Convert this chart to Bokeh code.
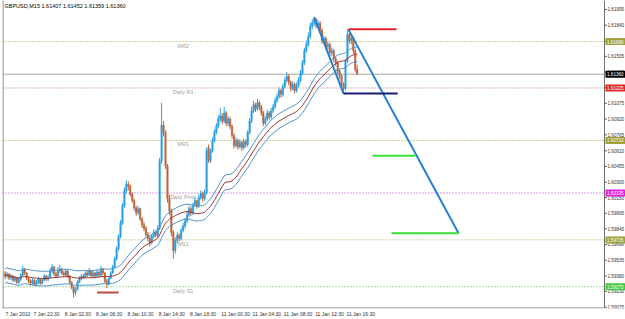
import pandas as pd
from bokeh.plotting import figure
from bokeh.models import Range1d, FixedTicker, Span, Label, ColumnDataSource
from bokeh.core.properties import value
from bokeh.embed import file_html
from bokeh.resources import INLINE

symbol = "GBPUSD,M15"

opens = [1.5941,1.5938,1.5940,1.5936,1.5938,1.5934,1.5936,1.5932,1.5935,1.5939,
1.5945,1.5941,1.5936,1.5933,1.5931,1.5934,1.5930,1.5932,1.5935,1.5931,
1.5934,1.5938,1.5935,1.5937,1.5943,1.5947,1.5940,1.5938,1.5943,1.5945,
1.5941,1.5939,1.5943,1.5938,1.5932,1.5927,1.5922,1.5925,1.5932,1.5936,
1.5938,1.5937,1.5941,1.5939,1.5943,1.5938,1.5941,1.5938,1.5942,1.5939,
1.5945,1.5941,1.5933,1.5930,1.5936,1.5941,1.5947,1.5955,1.5965,1.5977,
1.5990,1.6007,1.6022,1.6028,1.6026,1.6018,1.6012,1.6005,1.6000,1.6004,
1.5994,1.5988,1.5985,1.5979,1.5975,1.5971,1.5977,1.5981,1.5978,1.5985,
1.6051,1.6086,1.6079,1.6046,1.6014,1.6002,1.5981,1.5963,1.5973,1.5978,
1.5975,1.5983,1.5987,1.5992,1.5998,1.6004,1.6000,1.6008,1.6012,1.6007,
1.6015,1.6019,1.6014,1.6020,1.6064,1.6051,1.6061,1.6071,1.6079,1.6085,
1.6092,1.6095,1.6090,1.6098,1.6088,1.6092,1.6085,1.6076,1.6066,1.6071,
1.6065,1.6069,1.6064,1.6070,1.6067,1.6079,1.6090,1.6100,1.6106,1.6102,
1.6108,1.6104,1.6098,1.6088,1.6092,1.6098,1.6094,1.6100,1.6104,1.6110,
1.6114,1.6120,1.6116,1.6124,1.6130,1.6134,1.6128,1.6122,1.6126,1.6120,
1.6125,1.6130,1.6137,1.6147,1.6159,1.6165,1.6173,1.6183,1.6186,1.6190,
1.6184,1.6186,1.6179,1.6169,1.6171,1.6163,1.6165,1.6157,1.6159,1.6151,
1.6147,1.6139,1.6134,1.6126,1.6122,1.6149,1.6175,1.6169,1.6171,1.6159,
1.61407]

closes = [1.5938,1.5940,1.5936,1.5938,1.5934,1.5936,1.5932,1.5935,1.5939,1.5945,
1.5941,1.5936,1.5933,1.5931,1.5934,1.5930,1.5932,1.5935,1.5931,1.5934,
1.5938,1.5935,1.5937,1.5943,1.5947,1.5940,1.5938,1.5943,1.5945,1.5941,
1.5939,1.5943,1.5938,1.5932,1.5927,1.5922,1.5925,1.5932,1.5936,1.5938,
1.5937,1.5941,1.5939,1.5943,1.5938,1.5941,1.5938,1.5942,1.5939,1.5945,
1.5941,1.5933,1.5930,1.5936,1.5941,1.5947,1.5955,1.5965,1.5977,1.5990,
1.6007,1.6022,1.6028,1.6026,1.6018,1.6012,1.6005,1.6000,1.6004,1.5994,
1.5988,1.5985,1.5979,1.5975,1.5971,1.5977,1.5981,1.5978,1.5985,1.6051,
1.6086,1.6079,1.6046,1.6014,1.6002,1.5981,1.5963,1.5973,1.5978,1.5975,
1.5983,1.5987,1.5992,1.5998,1.6004,1.6000,1.6008,1.6012,1.6007,1.6015,
1.6019,1.6014,1.6020,1.6061,1.6051,1.6061,1.6071,1.6079,1.6085,1.6092,
1.6095,1.6090,1.6098,1.6088,1.6092,1.6085,1.6076,1.6066,1.6071,1.6065,
1.6069,1.6064,1.6070,1.6067,1.6079,1.6090,1.6100,1.6106,1.6102,1.6108,
1.6104,1.6098,1.6088,1.6092,1.6098,1.6094,1.6100,1.6104,1.6110,1.6114,
1.6120,1.6116,1.6124,1.6130,1.6134,1.6128,1.6122,1.6126,1.6120,1.6125,
1.6130,1.6137,1.6147,1.6159,1.6165,1.6173,1.6183,1.6186,1.6190,1.6184,
1.6186,1.6179,1.6169,1.6171,1.6163,1.6165,1.6157,1.6159,1.6151,1.6147,
1.6139,1.6134,1.6126,1.6122,1.6149,1.6175,1.6169,1.6171,1.6159,1.61407,
1.61360]

highs = [1.5943,1.5942,1.5941,1.5940,1.5939,1.5938,1.5937,1.5937,1.5941,1.5948,
1.5946,1.5942,1.5937,1.5935,1.5936,1.5935,1.5934,1.5937,1.5936,1.5936,
1.5940,1.5939,1.5939,1.5946,1.5950,1.5948,1.5942,1.5947,1.5949,1.5946,
1.5943,1.5945,1.5944,1.5939,1.5933,1.5928,1.5927,1.5934,1.5938,1.5940,
1.5940,1.5943,1.5943,1.5946,1.5944,1.5943,1.5942,1.5944,1.5943,1.5948,
1.5946,1.5942,1.5935,1.5937,1.5943,1.5949,1.5957,1.5967,1.5979,1.5993,
1.6010,1.6025,1.6032,1.6031,1.6028,1.6020,1.6014,1.6007,1.6007,1.6005,
1.5996,1.5991,1.5987,1.5981,1.5977,1.5979,1.5984,1.5983,1.5988,1.6054,
1.6108,1.6090,1.6081,1.6048,1.6018,1.6004,1.5983,1.5976,1.5981,1.5980,
1.5985,1.5990,1.5995,1.6001,1.6007,1.6006,1.6010,1.6015,1.6013,1.6018,
1.6022,1.6021,1.6023,1.6064,1.6067,1.6063,1.6074,1.6082,1.6088,1.6096,
1.6103,1.6098,1.6104,1.6100,1.6095,1.6094,1.6087,1.6078,1.6074,1.6073,
1.6072,1.6071,1.6073,1.6072,1.6081,1.6093,1.6104,1.6110,1.6108,1.6112,
1.6110,1.6106,1.6100,1.6095,1.6101,1.6100,1.6103,1.6107,1.6113,1.6117,
1.6123,1.6122,1.6127,1.6133,1.6138,1.6136,1.6130,1.6129,1.6128,1.6128,
1.6133,1.6140,1.6150,1.6162,1.6169,1.6177,1.6187,1.6190,1.6192,1.6191,
1.6189,1.6188,1.6181,1.6174,1.6173,1.6168,1.6167,1.6162,1.6161,1.6153,
1.6149,1.6141,1.6136,1.6128,1.6151,1.6180,1.6177,1.6174,1.6173,1.6161,
1.61452]

lows = [1.5935,1.5936,1.5934,1.5934,1.5932,1.5932,1.5930,1.5930,1.5933,1.5938,
1.5939,1.5934,1.5931,1.5929,1.5929,1.5928,1.5928,1.5930,1.5929,1.5930,
1.5933,1.5933,1.5933,1.5936,1.5941,1.5938,1.5936,1.5937,1.5941,1.5939,
1.5937,1.5938,1.5936,1.5930,1.5925,1.5917,1.5919,1.5924,1.5931,1.5934,
1.5935,1.5936,1.5937,1.5938,1.5936,1.5937,1.5936,1.5937,1.5937,1.5938,
1.5939,1.5931,1.5926,1.5929,1.5935,1.5940,1.5946,1.5953,1.5963,1.5975,
1.5988,1.6005,1.6019,1.6022,1.6016,1.6010,1.6002,1.5997,1.5998,1.5992,
1.5985,1.5982,1.5976,1.5972,1.5967,1.5969,1.5975,1.5976,1.5976,1.5983,
1.6048,1.6075,1.6043,1.6010,1.5998,1.5977,1.5955,1.5960,1.5970,1.5972,
1.5973,1.5981,1.5985,1.5990,1.5996,1.5997,1.5998,1.6006,1.6004,1.6005,
1.6013,1.6011,1.6012,1.6018,1.6049,1.6049,1.6059,1.6069,1.6077,1.6083,
1.6089,1.6087,1.6088,1.6085,1.6085,1.6082,1.6073,1.6063,1.6064,1.6062,
1.6063,1.6061,1.6062,1.6064,1.6065,1.6077,1.6088,1.6098,1.6099,1.6100,
1.6101,1.6095,1.6085,1.6086,1.6090,1.6091,1.6092,1.6098,1.6102,1.6108,
1.6112,1.6113,1.6114,1.6122,1.6128,1.6125,1.6119,1.6120,1.6117,1.6118,
1.6123,1.6128,1.6135,1.6145,1.6157,1.6163,1.6171,1.6180,1.6183,1.6181,
1.6181,1.6176,1.6166,1.6166,1.6160,1.6160,1.6154,1.6154,1.6148,1.6144,
1.6136,1.6131,1.6123,1.6117,1.6120,1.6147,1.6166,1.6165,1.6156,1.6138,
1.61359]

# time axis (bar index of each labelled bar)
time_tick_bars = [0, 14, 30, 46, 62, 78, 94, 110, 126, 142, 158, 174]
time_tick_labels = ["7 Jan 2010", "7 Jan 22:30", "8 Jan 02:30", "8 Jan 06:30", "8 Jan 10:30",
                    "8 Jan 14:30", "8 Jan 18:30", "11 Jan 00:30", "11 Jan 04:30", "11 Jan 08:30",
                    "11 Jan 12:30", "11 Jan 16:30"]

# price scale
price_ticks = [1.61995, 1.61840, 1.61685, 1.61535, 1.61380, 1.61230, 1.61075, 1.60920, 1.60765,
               1.60610, 1.60455, 1.60300, 1.60150, 1.59995, 1.59845, 1.59690, 1.59535, 1.59380,
               1.59230, 1.59075]

# pivot levels
level_names = ["MR2", "Daily R1", "MR1", "Daily Pivot", "MS1", "Daily S1"]
level_values = [1.61680, 1.61225, 1.60710, 1.60195, 1.59735, 1.59275]
level_line_colors = ["#a3a33a", "#c8607a", "#a3a33a", "#b040c0", "#a3a33a", "#50b850"]
level_box_colors = ["#a0a03c", "#e02828", "#a0a03c", "#e020e0", "#a0a03c", "#44c844"]
level_label_bar = 91

# drawn objects (bar index, price)
trend_x0 = [158, 175.5]
trend_y0 = [1.6192, 1.6180]
trend_x1 = [173, 231.8]
trend_y1 = [1.6117, 1.5980]

hline_x0 = [173, 175.5, 187.8, 197.5, 47]
hline_x1 = [200.7, 200.1, 209.8, 231.8, 58]
hline_y = [1.6117, 1.6180, 1.6056, 1.5980, 1.5922]
hline_colors = ["#1c1c78", "#e8222a", "#33e033", "#33e033", "#b84a3a"]

ma_period = 34
env_dev = 0.00045

FONT = "Liberation Sans"
X_START, CHART_END = -1.33, 306.4          # chart area in bars
Y_START, Y_END = 1.59062, 1.62083
PX_PER_BAR = 602 / (CHART_END - X_START)
SCALE_W = 21                               # price-scale strip, px
X_END = CHART_END + SCALE_W / PX_PER_BAR
PX_PRICE = (Y_END - Y_START) / 308
TIME_FONT_PX = 5.0
SCALE_FONT = "4.6px"

n = len(closes)
idx = list(range(n))
up = [c >= o for o, c in zip(opens, closes)]
cols = ["#2a9fe0" if u else "#c0643c" for u in up]
src = ColumnDataSource(dict(
    x=idx, o=opens, h=highs, l=lows, c=closes,
    top=[max(o, c) for o, c in zip(opens, closes)],
    bot=[min(o, c) for o, c in zip(opens, closes)],
    col=cols))

ma = pd.Series(closes).rolling(ma_period, min_periods=1).mean()

p = figure(width=625, height=319, x_range=Range1d(X_START, X_END), y_range=Range1d(Y_START, Y_END),
           output_backend="svg", toolbar_location=None, y_axis_location=None,
           min_border_left=2, min_border_right=0, min_border_top=0, min_border_bottom=11)
p.xgrid.visible = False
p.ygrid.visible = False
p.background_fill_color = "white"
p.border_fill_color = "white"
p.outline_line_color = None

# chart frame (left / right / bottom borders of the price area)
p.add_layout(Span(location=X_START + 0.5 / PX_PER_BAR, dimension="height", line_color="#707070", line_width=1))
p.add_layout(Span(location=CHART_END, dimension="height", line_color="#707070", line_width=1))
p.segment(x0=[X_START], y0=[Y_START + 0.5 * PX_PRICE], x1=[CHART_END], y1=[Y_START + 0.5 * PX_PRICE],
          line_color="#808080", line_width=1)

# pivot level lines + current price line
nl = len(level_values)
p.segment(x0=[X_START] * nl, y0=level_values, x1=[CHART_END] * nl, y1=level_values,
          line_color=level_line_colors, line_width=1, line_dash="1 2")
p.segment(x0=[X_START], y0=[closes[-1]], x1=[CHART_END], y1=[closes[-1]], line_color="#a8a8a8", line_width=1)

p.text(x=[level_label_bar] * nl, y=level_values, text=level_names,
       text_font=value(FONT), text_font_size="5.5px", text_color="#a0a0a0",
       text_align="center", text_baseline="top", y_offset=1)

# candles
p.segment(x0="x", y0="l", x1="x", y1="h", line_color="col", line_width=1, source=src)
p.vbar(x="x", width=0.75, top="top", bottom="bot", fill_color="col", line_color="col",
       line_width=0.5, source=src)

# moving average envelope
p.line(idx, list(ma * (1 + env_dev)), line_color="#4f8fc8", line_width=1)
p.line(idx, list(ma * (1 - env_dev)), line_color="#4f8fc8", line_width=1)
p.line(idx, list(ma), line_color="#a0302a", line_width=1)

# drawn objects
p.segment(x0=trend_x0, y0=trend_y0, x1=trend_x1, y1=trend_y1, line_color="#2480d0", line_width=2)
p.segment(x0=hline_x0, y0=hline_y, x1=hline_x1, y1=hline_y, line_color=hline_colors, line_width=2)

# price scale on the right of the chart area
nt = len(price_ticks)
p.segment(x0=[CHART_END] * nt, y0=price_ticks, x1=[CHART_END + 2.5 / PX_PER_BAR] * nt, y1=price_ticks,
          line_color="#606060", line_width=1)
p.text(x=[CHART_END] * nt, y=price_ticks, text=[f"{t:.5f}" for t in price_ticks], x_offset=3,
       text_font=value(FONT), text_font_size=SCALE_FONT, text_color="#303030",
       text_align="left", text_baseline="middle")

box_values = level_values + [closes[-1]]
box_colors = level_box_colors + ["#000000"]
nb = len(box_values)
p.quad(left=[CHART_END + 1 / PX_PER_BAR] * nb, right=[X_END] * nb,
       top=[v + 3.5 * PX_PRICE for v in box_values], bottom=[v - 3.5 * PX_PRICE for v in box_values],
       fill_color=box_colors, line_color=None)
p.text(x=[CHART_END] * nb, y=box_values, text=[f"{v:.5f}" for v in box_values], x_offset=2.5,
       text_font=value(FONT), text_font_size=SCALE_FONT, text_color="white",
       text_align="left", text_baseline="middle")

# time axis: MT4 draws each label starting at its bar, so centre each label half its width right
label_pos = [b + (len(s) * 0.475 * TIME_FONT_PX / 2 + 1) / PX_PER_BAR
             for b, s in zip(time_tick_bars, time_tick_labels)]
xa = p.xaxis[0]
xa.ticker = FixedTicker(ticks=label_pos)
xa.major_label_overrides = {pos: s for pos, s in zip(label_pos, time_tick_labels)}
xa.major_label_text_font = FONT
xa.major_label_text_font_size = f"{TIME_FONT_PX}px"
xa.major_label_text_color = "#303030"
xa.major_label_standoff = 2
xa.major_tick_out = 0
xa.major_tick_in = 0
xa.minor_tick_out = 0
xa.minor_tick_in = 0
xa.axis_line_color = None

# header
hdr = f"{symbol}  {opens[-1]:.5f} {highs[-1]:.5f} {lows[-1]:.5f} {closes[-1]:.5f}"
p.add_layout(Label(x=2, y=306, x_units="screen", y_units="screen", text=hdr, text_font=FONT,
                   text_font_size="5.5px", text_color="black", text_baseline="top"))

open("out.html", "w").write(file_html(p, INLINE))
